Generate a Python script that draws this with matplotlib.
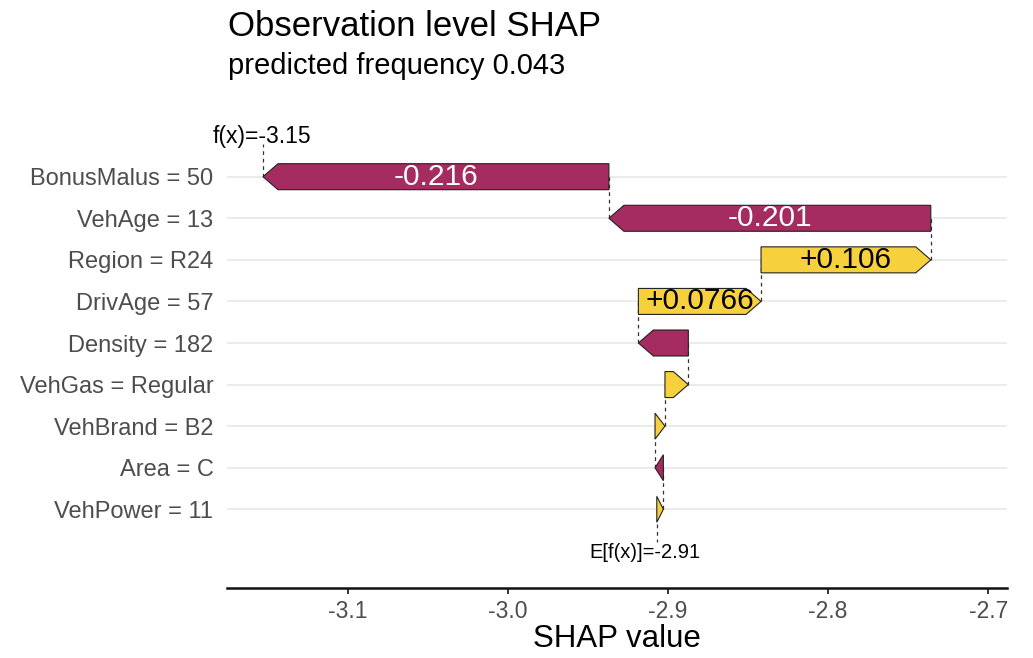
import numpy as np
import matplotlib
matplotlib.use("Agg")
import matplotlib.pyplot as plt
from matplotlib.patches import Polygon

plt.rcParams["font.family"] = ["Liberation Sans", "DejaVu Sans"]
plt.rcParams["axes.unicode_minus"] = False

# Feature contributions, listed from bottom row to top row
features = ["VehPower", "Area", "VehBrand", "VehGas", "Density",
            "DrivAge", "Region", "VehAge", "BonusMalus"]
feature_values = ["11", "C", "B2", "Regular", "182", "57", "R24", "13", "50"]
shap_values = [0.0041, -0.0052, 0.0062, 0.0146, -0.0312,
               0.0766, 0.106, -0.201, -0.216]
baseline = -2.907
xticks = [-3.1, -3.0, -2.9, -2.8, -2.7]

title = "Observation level SHAP"
subtitle = "predicted frequency 0.043"

pos_color = "#f7d13d"
neg_color = "#a52c60"

W, H, DPI = 1033, 658, 100
fig = plt.figure(figsize=(W / DPI, H / DPI), dpi=DPI)
ax = fig.add_axes([227.3 / W, 1 - 588 / H, (1006.7 - 227.3) / W, (588 - 120) / H])
ax.set_xlim(-3.1752, -2.6885)
ax.set_ylim(-0.893, 10.364)

n = len(shap_values)
rows = np.arange(1, n + 1)
ends = baseline + np.cumsum(shap_values)
starts = np.concatenate([[baseline], ends[:-1]])
fx = ends[-1]

# arrow head length fixed in pixels, converted to data units
fig.canvas.draw()
px_per_unit = (ax.transData.transform((1, 0))[0] - ax.transData.transform((0, 0))[0])
head = 15 / px_per_unit
half_h = 0.3125

renderer = fig.canvas.get_renderer()
for y, s, v in zip(rows, starts, shap_values):
    e = s + v
    d = np.sign(v)
    h = min(head, abs(v))
    neck = e - d * h
    verts = [(s, y - half_h), (neck, y - half_h), (e, y),
             (neck, y + half_h), (s, y + half_h)]
    ax.add_patch(Polygon(verts, closed=True,
                         facecolor=pos_color if v > 0 else neg_color,
                         edgecolor="#222222", linewidth=0.8, zorder=3))
    label = f"{v:+.3g}"
    t = ax.text((s + e) / 2, y, label, ha="center", va="center",
                fontsize=21.5, color="black" if v > 0 else "white", zorder=4)
    bb = t.get_window_extent(renderer)
    if bb.width > abs(v) * px_per_unit:
        t.remove()

# dashed connectors between consecutive bars
dash = dict(color="#333333", linewidth=0.9, linestyle=(0, (3, 3)), zorder=2)
for i in range(n - 1):
    ax.plot([ends[i], ends[i]], [rows[i], rows[i + 1]], **dash)
ax.plot([baseline, baseline], [rows[0], 0.22], **dash)
ax.plot([fx, fx], [rows[-1], 9.79], **dash)

ax.annotate(f"E[f(x)]={baseline:.3g}", (baseline, -0.164), xytext=(-8.5, 0),
            textcoords="offset points", ha="center", va="baseline",
            fontsize=14.5, color="black", annotation_clip=False)
ax.annotate(f"f(x)={fx:.3g}", (fx, 9.80), xytext=(-1, 0),
            textcoords="offset points", ha="center", va="baseline",
            fontsize=16.5, color="black", annotation_clip=False)

ax.set_yticks(rows)
ax.set_yticklabels([f"{f} = {v}" for f, v in zip(features, feature_values)])
ax.set_xticks(xticks)
ax.set_xticklabels([f"{x:.1f}" for x in xticks])
ax.tick_params(axis="y", length=0, pad=10, labelsize=17, labelcolor="#4d4d4d")
ax.tick_params(axis="x", length=4.3, width=1.4, color="#333333", pad=4,
               labelsize=16.5, labelcolor="#4d4d4d")
ax.yaxis.grid(True, color="#ebebeb", linewidth=1.5, zorder=0)
ax.set_axisbelow(True)
for side in ["top", "right", "left"]:
    ax.spines[side].set_visible(False)
ax.spines["bottom"].set_linewidth(1.8)
ax.spines["bottom"].set_color("#111111")
ax.set_xlabel("SHAP value", fontsize=22.5, labelpad=1)

fig.text(228 / W, 1 - 36 / H, title, fontsize=25, va="baseline", ha="left")
fig.text(228 / W, 1 - 74 / H, subtitle, fontsize=21, va="baseline", ha="left")

fig.savefig("out.png", dpi=DPI)
